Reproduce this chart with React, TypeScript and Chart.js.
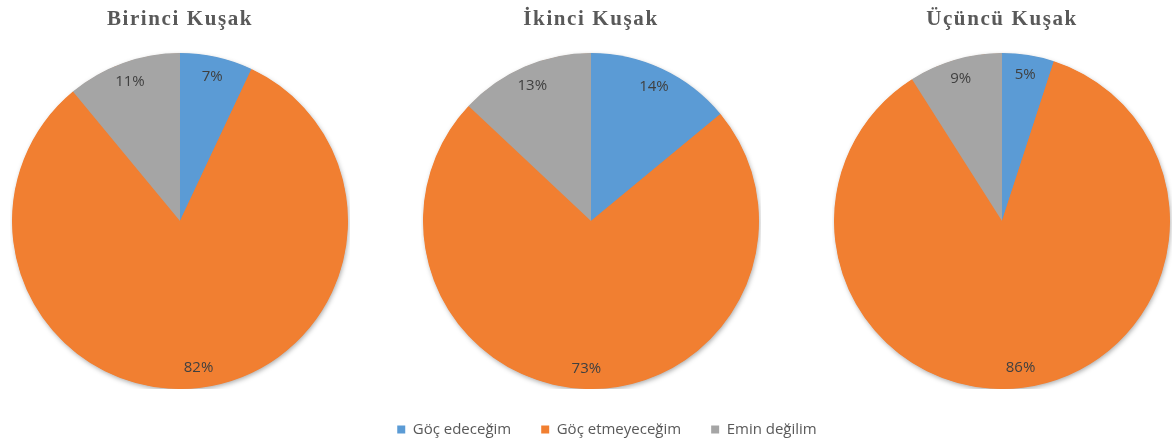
import React, { useEffect, useRef } from 'react';
import { Chart, registerables } from 'chart.js';

Chart.register(...registerables);

const categories = ['Göç edeceğim', 'Göç etmeyeceğim', 'Emin değilim'];
const generationTitles = ['Birinci Kuşak', 'İkinci Kuşak', 'Üçüncü Kuşak'];
const firstGeneration = [7, 82, 11];
const secondGeneration = [14, 73, 13];
const thirdGeneration = [5, 86, 9];
const sliceColors = ['#5B9BD5', '#F17F31', '#A5A5A5'];

const seriesList = [firstGeneration, secondGeneration, thirdGeneration];
const pieLefts = [10, 421, 832];

const pieDecor = {
  id: 'pieDecor',
  beforeDraw(chart: any) {
    chart.ctx.letterSpacing = '1.6px';
  },
  beforeDatasetsDraw(chart: any) {
    const ctx = chart.ctx;
    ctx.letterSpacing = '0px';
    const meta = chart.getDatasetMeta(0);
    const arc = meta.data[0];
    if (!arc) return;
    const { x, y, outerRadius } = arc.getProps(['x', 'y', 'outerRadius'], true);
    ctx.save();
    ctx.shadowColor = 'rgba(0,0,0,0.35)';
    ctx.shadowBlur = 5;
    ctx.shadowOffsetX = 1;
    ctx.shadowOffsetY = 2;
    ctx.fillStyle = sliceColors[1];
    ctx.beginPath();
    ctx.arc(x, y, outerRadius - 0.5, 0, Math.PI * 2);
    ctx.fill();
    ctx.restore();
  },
  afterDatasetsDraw(chart: any) {
    const ctx = chart.ctx;
    const meta = chart.getDatasetMeta(0);
    const values = chart.data.datasets[0].data as number[];
    ctx.save();
    ctx.letterSpacing = '0px';
    ctx.font = '15px "Open Sans"';
    ctx.fillStyle = '#404040';
    ctx.textAlign = 'center';
    ctx.textBaseline = 'middle';
    meta.data.forEach((el: any, i: number) => {
      const { x, y, startAngle, endAngle, outerRadius } = el.getProps(
        ['x', 'y', 'startAngle', 'endAngle', 'outerRadius'],
        true
      );
      const mid = (startAngle + endAngle) / 2;
      const r = outerRadius * 0.88;
      ctx.fillText(values[i] + '%', x + Math.cos(mid) * r, y + Math.sin(mid) * r);
    });
    ctx.restore();
  },
};

function PieChart({ index }: { index: number }) {
  const ref = useRef<HTMLCanvasElement | null>(null);
  useEffect(() => {
    if (!ref.current) return;
    const chart = new Chart(ref.current, {
      type: 'pie',
      data: {
        labels: categories,
        datasets: [
          {
            data: seriesList[index],
            backgroundColor: sliceColors,
            borderWidth: 0,
          },
        ],
      },
      options: {
        animation: false,
        responsive: false,
        layout: { padding: 0 },
        plugins: {
          legend: { display: false },
          tooltip: { enabled: false },
          title: {
            display: true,
            text: generationTitles[index],
            color: '#595959',
            font: { family: '"Liberation Serif", "Times New Roman", serif', size: 21, weight: 'bold', lineHeight: 1.2 },
            padding: { top: 7, bottom: 20.8 },
          },
        },
      },
      plugins: [pieDecor],
    } as any);
    return () => chart.destroy();
  }, [index]);
  return (
    <canvas
      ref={ref}
      width={340}
      height={389}
      style={{ position: 'absolute', left: pieLefts[index], top: 0, width: 340, height: 389, display: 'block' }}
    />
  );
}

function LegendChart() {
  const ref = useRef<HTMLCanvasElement | null>(null);
  useEffect(() => {
    if (!ref.current) return;
    const chart = new Chart(ref.current, {
      type: 'pie',
      data: {
        labels: categories,
        datasets: [
          {
            data: firstGeneration,
            backgroundColor: sliceColors,
            borderWidth: 0,
            radius: 0,
          },
        ],
      },
      options: {
        animation: false,
        responsive: false,
        layout: { padding: { left: 38, right: 0, top: 0, bottom: 0 } },
        plugins: {
          tooltip: { enabled: false },
          title: { display: false },
          legend: {
            display: true,
            position: 'top',
            maxHeight: 80,
            labels: {
              boxWidth: 8,
              boxHeight: 8,
              padding: 30,
              color: '#595959',
              font: { family: '"Open Sans", sans-serif', size: 15 },
            },
          },
        },
      },
    } as any);
    return () => chart.destroy();
  }, []);
  return (
    <canvas
      ref={ref}
      width={1176}
      height={140}
      style={{ position: 'absolute', left: 0, top: 392, width: 1176, height: 140, display: 'block' }}
    />
  );
}

export default function App() {
  return (
    <div
      style={{
        position: 'absolute',
        left: 0,
        top: 0,
        width: 1176,
        height: 446,
        overflow: 'hidden',
        background: '#ffffff',
      }}
    >
      <PieChart index={0} />
      <PieChart index={1} />
      <PieChart index={2} />
      <LegendChart />
    </div>
  );
}
